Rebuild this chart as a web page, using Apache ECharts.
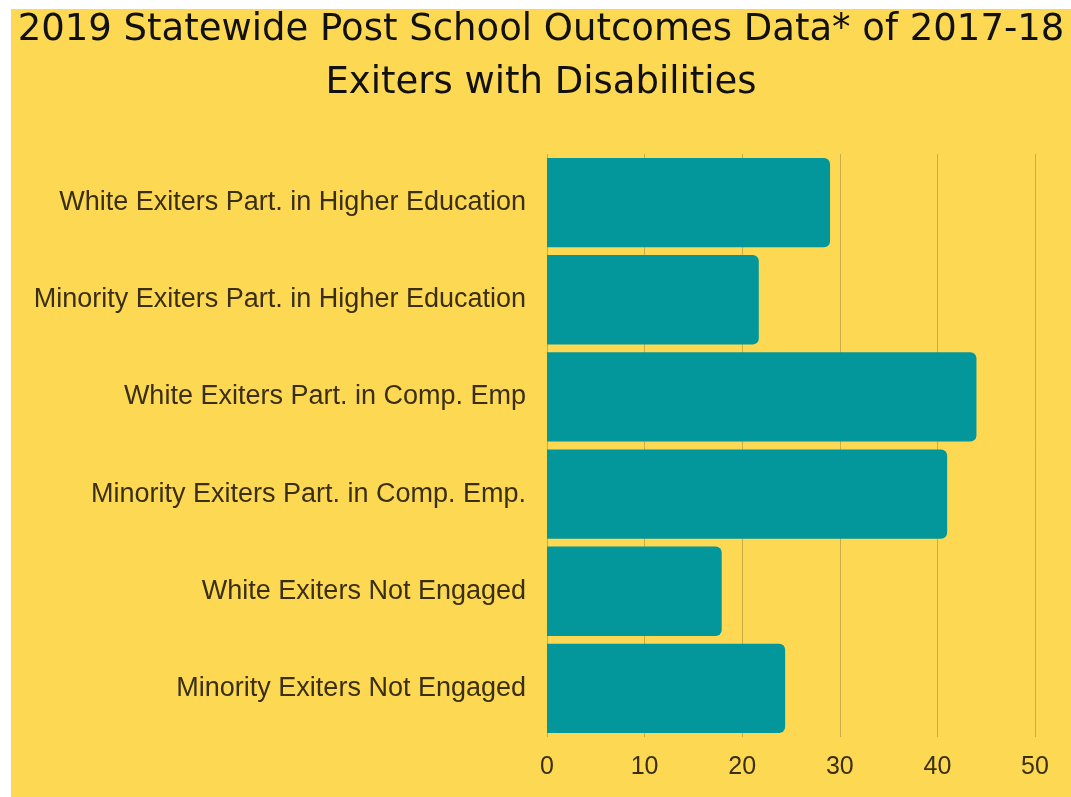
<!DOCTYPE html>
<html>
<head>
<meta charset="utf-8">
<script src="https://cdn.jsdelivr.net/npm/echarts@6/dist/echarts.min.js"></script>
<style>
html,body{margin:0;padding:0;background:#ffffff;width:1071px;height:797px;overflow:hidden;}
#chart{position:absolute;left:11px;top:9px;width:1060px;height:788px;}
</style>
</head>
<body>
<div id="chart"></div>
<script>
const categories = [
  "White Exiters Part. in Higher Education",
  "Minority Exiters Part. in Higher Education",
  "White Exiters Part. in Comp. Emp",
  "Minority Exiters Part. in Comp. Emp.",
  "White Exiters Not Engaged",
  "Minority Exiters Not Engaged"
];
const values = [29, 21.7, 44, 41, 17.9, 24.4];
const titleLine1 = "2019 Statewide Post School Outcomes Data* of 2017-18";
const titleLine2 = "Exiters with Disabilities";

const chart = echarts.init(document.getElementById('chart'), null, {renderer: 'canvas'});
const titleStyle = {fontFamily: 'DejaVu Sans', fontSize: 37, fontWeight: 'normal', color: '#111111'};
chart.setOption({
  backgroundColor: '#fdd853',
  animation: false,
  title: [
    {text: titleLine1, left: 'center', top: -2, textStyle: titleStyle},
    {text: titleLine2, left: 'center', top: 51, textStyle: titleStyle}
  ],
  grid: {left: 536, top: 145, width: 488, height: 583, containLabel: false},
  xAxis: {
    type: 'value', min: 0, max: 50, interval: 10,
    axisLine: {show: false}, axisTick: {show: false},
    splitLine: {show: true, lineStyle: {color: '#c9ad48', width: 1}},
    axisLabel: {fontFamily: 'Liberation Sans', fontSize: 25, color: '#3a2f14', margin: 18}
  },
  yAxis: {
    type: 'category', data: categories, inverse: true,
    axisLine: {show: false}, axisTick: {show: false},
    splitLine: {show: false},
    axisLabel: {fontFamily: 'Liberation Sans', fontSize: 27, color: '#3a2f14', margin: 21}
  },
  series: [{
    type: 'bar', data: values, barCategoryGap: '8%',
    itemStyle: {color: '#03969a', borderRadius: [0, 6, 6, 0]}
  }]
});
</script>
</body>
</html>
